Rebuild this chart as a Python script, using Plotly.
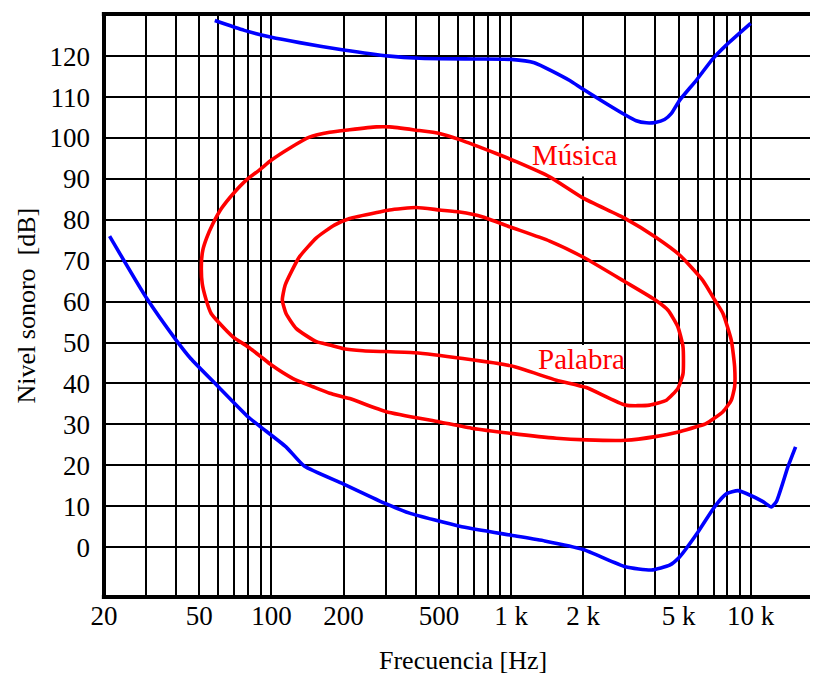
import math
import plotly.graph_objects as go

# ---- data ----
pain_f = [58, 77, 100, 131, 200, 311, 415, 700, 1000, 1250, 1750, 2000, 3000,
          3330, 3670, 4000, 4370, 4670, 5050, 5930, 6960, 7910, 10000]
pain_db = [128.7, 126.3, 124.6, 123.3, 121.5, 120.0, 119.5, 119.3, 119.2, 118.4,
           114.1, 111.9, 105.6, 104.2, 103.7, 103.8, 104.5, 106.0, 109.2, 114.1,
           119.4, 122.7, 128.0]

hear_f = [21.1, 30, 40, 46, 60, 80, 90, 115, 137, 200, 300, 377, 610, 1000,
          1380, 2000, 3000, 3850, 4590, 5050, 6030, 7080, 7910, 8850, 9590, 11260,
          12200, 12800, 14300, 15400]
hear_db = [76, 61, 50.6, 46.1, 39.2, 31.8, 29.4, 24.5, 19.8, 15.4, 10.6, 8.3,
           5.1, 2.9, 1.5, -0.6, -4.8, -5.6, -4.4, -2.4, 3.7, 9.9, 13, 13.8, 13.1,
           11.1, 9.8, 11.1, 19.6, 24.5]

musica_f = [51, 51.7, 53.6, 56.8, 61.9, 69.5, 78.5, 89.2, 100, 119, 144, 175, 212,
            274, 311, 402, 503, 610, 867, 1051, 1449, 2000, 3000, 4000, 5050, 6310,
            7080, 7660, 8300, 8570, 8570, 8300, 7660, 6510, 5930, 5050, 4000, 3000,
            2060, 1545, 1000, 693, 503, 301, 212, 175, 149, 123, 100, 90.5, 80, 69,
            60.7, 56, 53.4, 51.4, 51]
musica_db = [69.3, 72.6, 75.5, 78.9, 82.8, 86.5, 89.7, 92.2, 94.6, 97.5, 100.2,
             101.4, 102, 102.7, 102.7, 101.9, 101.1, 99.6, 96.2, 94.2, 90.5, 85.3,
             80.3, 75.8, 71.4, 65.2, 60.4, 57.1, 50.6, 44.1, 39.2, 35.9, 33.1, 30.2,
             29.4, 28.2, 27, 26.1, 26.2, 26.6, 27.8, 29, 30.6, 33.1, 36.3, 37.6, 39.2,
             41.2, 44.5, 46.5, 48.9, 51.4, 54.7, 57.1, 60.4, 64.4, 69.3]

palabra_f = [111, 114, 122, 131, 154, 183, 212, 282, 311, 402, 503, 610, 763, 986,
             1449, 1995, 3000, 4000, 4520, 4970, 5220, 5220, 4970, 4450, 3785, 3000,
             2060, 1545, 1000, 629, 394, 241, 200, 175, 154, 127, 115, 111]
palabra_db = [60.4, 64, 67.7, 71, 75.6, 78.7, 80.3, 81.9, 82.4, 83, 82.4, 81.9, 80.7,
              78.3, 74.8, 70.9, 64.8, 60.4, 57.9, 53.8, 48.9, 42.4, 38.8, 35.9, 34.7,
              34.7, 39, 40.8, 44.3, 46.1, 47.5, 48, 48.5, 49.4, 50.2, 53.4, 57.1, 60.4]

x_tickvals = [20, 50, 100, 200, 500, 1000, 2000, 5000, 10000]
x_ticktext = ["20", "50", "100", "200", "500", "1 k", "2 k", "5 k", "10 k"]
x_minor_vals = [30, 40, 60, 70, 80, 90, 300, 400, 600, 700, 800, 900,
                3000, 4000, 6000, 7000, 8000, 9000]
y_tickvals = list(range(0, 130, 10))

FONT = "Liberation Serif, Times New Roman, serif"
BLUE = "#0000ff"
RED = "#ff0000"

fig = go.Figure()
for fx, fy, col in [(pain_f, pain_db, BLUE), (hear_f, hear_db, BLUE),
                    (musica_f, musica_db, RED), (palabra_f, palabra_db, RED)]:
    fig.add_trace(go.Scatter(x=fx, y=fy, mode="lines",
                             line=dict(color=col, width=3.6, shape="spline", smoothing=0.5),
                             showlegend=False, hoverinfo="skip"))

x0 = math.log10(20)
x1 = x0 + 714 / 239.6

# white patches under the curve labels (between gridlines and traces)
fig.add_shape(type="rect", xref="x", yref="y", x0=1172, x1=2900, y0=90.6, y1=99.4,
              fillcolor="white", line=dict(width=0), layer="between")
fig.add_shape(type="rect", xref="x", yref="y", x0=1254, x1=2960, y0=40.6, y1=49.4,
              fillcolor="white", line=dict(width=0), layer="between")

# thick frame: bottom, top and left edges of the plotting area
for sx0, sy0, sx1, sy1 in [(-0.003, 0, 1, 0), (-0.003, 1, 1, 1), (0, -0.003, 0, 1.003)]:
    fig.add_shape(type="line", xref="paper", yref="paper", x0=sx0, y0=sy0, x1=sx1, y1=sy1,
                  line=dict(color="black", width=4), layer="above")

fig.update_layout(
    width=810, height=667,
    margin=dict(l=96, r=0, t=6, b=78),
    plot_bgcolor="white", paper_bgcolor="white",
    font=dict(family=FONT, size=26, color="black"),
    xaxis=dict(type="log", range=[x0, x1], tickmode="array",
               tickvals=x_tickvals, ticktext=x_ticktext,
               showgrid=True, gridcolor="black", gridwidth=2,
               minor=dict(tickmode="array", tickvals=x_minor_vals, showgrid=True,
                          gridcolor="black", gridwidth=2, ticks=""),
               showline=False, ticks="", ticklen=0, zeroline=False,
               tickfont=dict(family=FONT, size=27, color="black")),
    yaxis=dict(range=[-12.2, 130.3], tickmode="array", tickvals=y_tickvals,
               showgrid=True, gridcolor="black", gridwidth=2,
               showline=False, ticks="", ticklen=0, zeroline=False,
               ticklabelstandoff=13,
               tickfont=dict(family=FONT, size=27, color="black")),
    annotations=[
        dict(x=3.267, y=95.75, xref="x", yref="y", text="Música",
             showarrow=False, font=dict(family=FONT, size=29, color=RED)),
        dict(x=3.2922, y=46.07, xref="x", yref="y", text="Palabra",
             showarrow=False, font=dict(family=FONT, size=29, color=RED)),
        dict(x=(463 - 104) / 714, y=-(660 - 597) / 583, xref="paper", yref="paper",
             text="Frecuencia [Hz]", showarrow=False, xanchor="center", yanchor="middle",
             font=dict(family=FONT, size=26, color="black")),
        dict(x=(26 - 104) / 714, y=0.5, xref="paper", yref="paper",
             text="Nivel sonoro \u00a0[dB]", showarrow=False, textangle=-90,
             xanchor="center", yanchor="middle",
             font=dict(family=FONT, size=26, color="black")),
    ],
)

fig.write_html("out.html")
